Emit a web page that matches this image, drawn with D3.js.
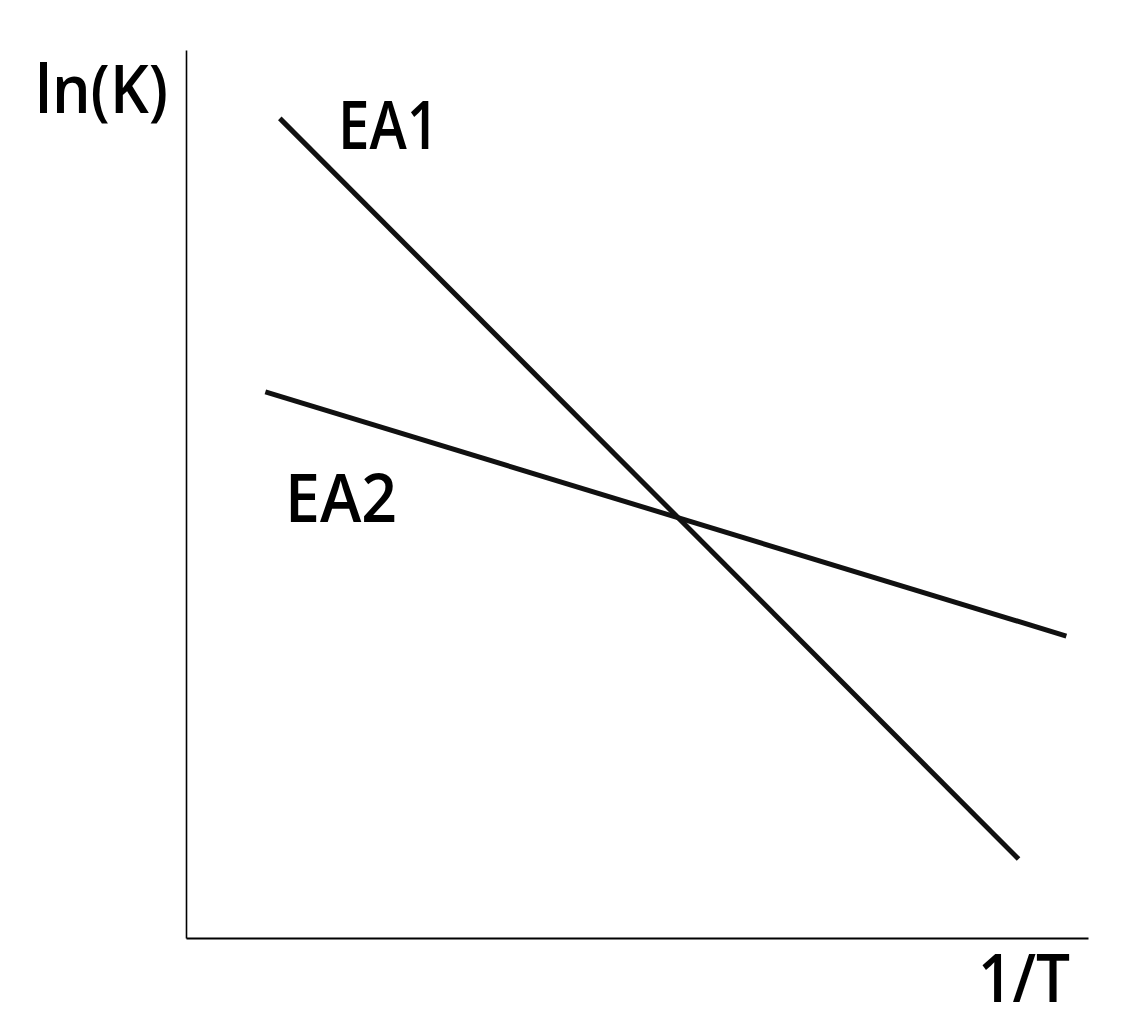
<!DOCTYPE html>
<html>
<head>
<meta charset="utf-8">
<script src="https://cdn.jsdelivr.net/npm/d3@7"></script>
<style>
  body { margin: 0; background: #fff; }
  text { font-family: "Open Sans", "Noto Sans", sans-serif; font-weight: 600; fill: #000; }
</style>
</head>
<body>
<script>
// Arrhenius sketch, no ticks, arbitrary units
var seriesNames = ["EA1", "EA2"];
var ea1X = [1.04, 9.23];
var ea1Y = [9.23, 0.89];
var ea2X = [0.88, 9.76];
var ea2Y = [6.15, 3.40];
var xLabel = "1/T";
var yLabel = "ln(K)";

var width = 1122, height = 1024;
var margin = {top: 50, right: 34, bottom: 86, left: 186};

var svg = d3.select("body").append("svg")
    .attr("width", width)
    .attr("height", height);

var x = d3.scaleLinear().domain([0, 10]).range([margin.left, width - margin.right]);
var y = d3.scaleLinear().domain([0, 10]).range([height - margin.bottom, margin.top]);

// axes: bare lines only
svg.append("g")
    .attr("transform", "translate(0," + y(0) + ")")
    .call(d3.axisBottom(x).ticks(0).tickSize(0))
    .call(function(g) { g.select(".domain").attr("stroke", "#000").attr("stroke-width", 2); });

svg.append("g")
    .attr("transform", "translate(" + x(0) + ",0)")
    .call(d3.axisLeft(y).ticks(0).tickSize(0))
    .call(function(g) { g.select(".domain").attr("stroke", "#000").attr("stroke-width", 1.6); });

var series = [
  {name: seriesNames[0], pts: d3.zip(ea1X, ea1Y)},
  {name: seriesNames[1], pts: d3.zip(ea2X, ea2Y)}
];

var line = d3.line()
    .x(function(d) { return x(d[0]); })
    .y(function(d) { return y(d[1]); });

svg.selectAll("path.series")
    .data(series)
  .enter().append("path")
    .attr("class", "series")
    .attr("d", function(d) { return line(d.pts); })
    .attr("fill", "none")
    .attr("stroke", "#111")
    .attr("stroke-width", 5);

// labels, fitted to the widths seen in the sketch
function label(txt, px, py, len) {
  svg.append("text")
      .attr("x", px).attr("y", py)
      .attr("font-size", 67)
      .attr("textLength", len)
      .attr("lengthAdjust", "spacingAndGlyphs")
      .text(txt);
}
label(yLabel, 35, 113, 133);
label(seriesNames[0], 338, 149, 101);
label(seriesNames[1], 285, 522, 112);
label(xLabel, 978, 1002, 92);
</script>
</body>
</html>
